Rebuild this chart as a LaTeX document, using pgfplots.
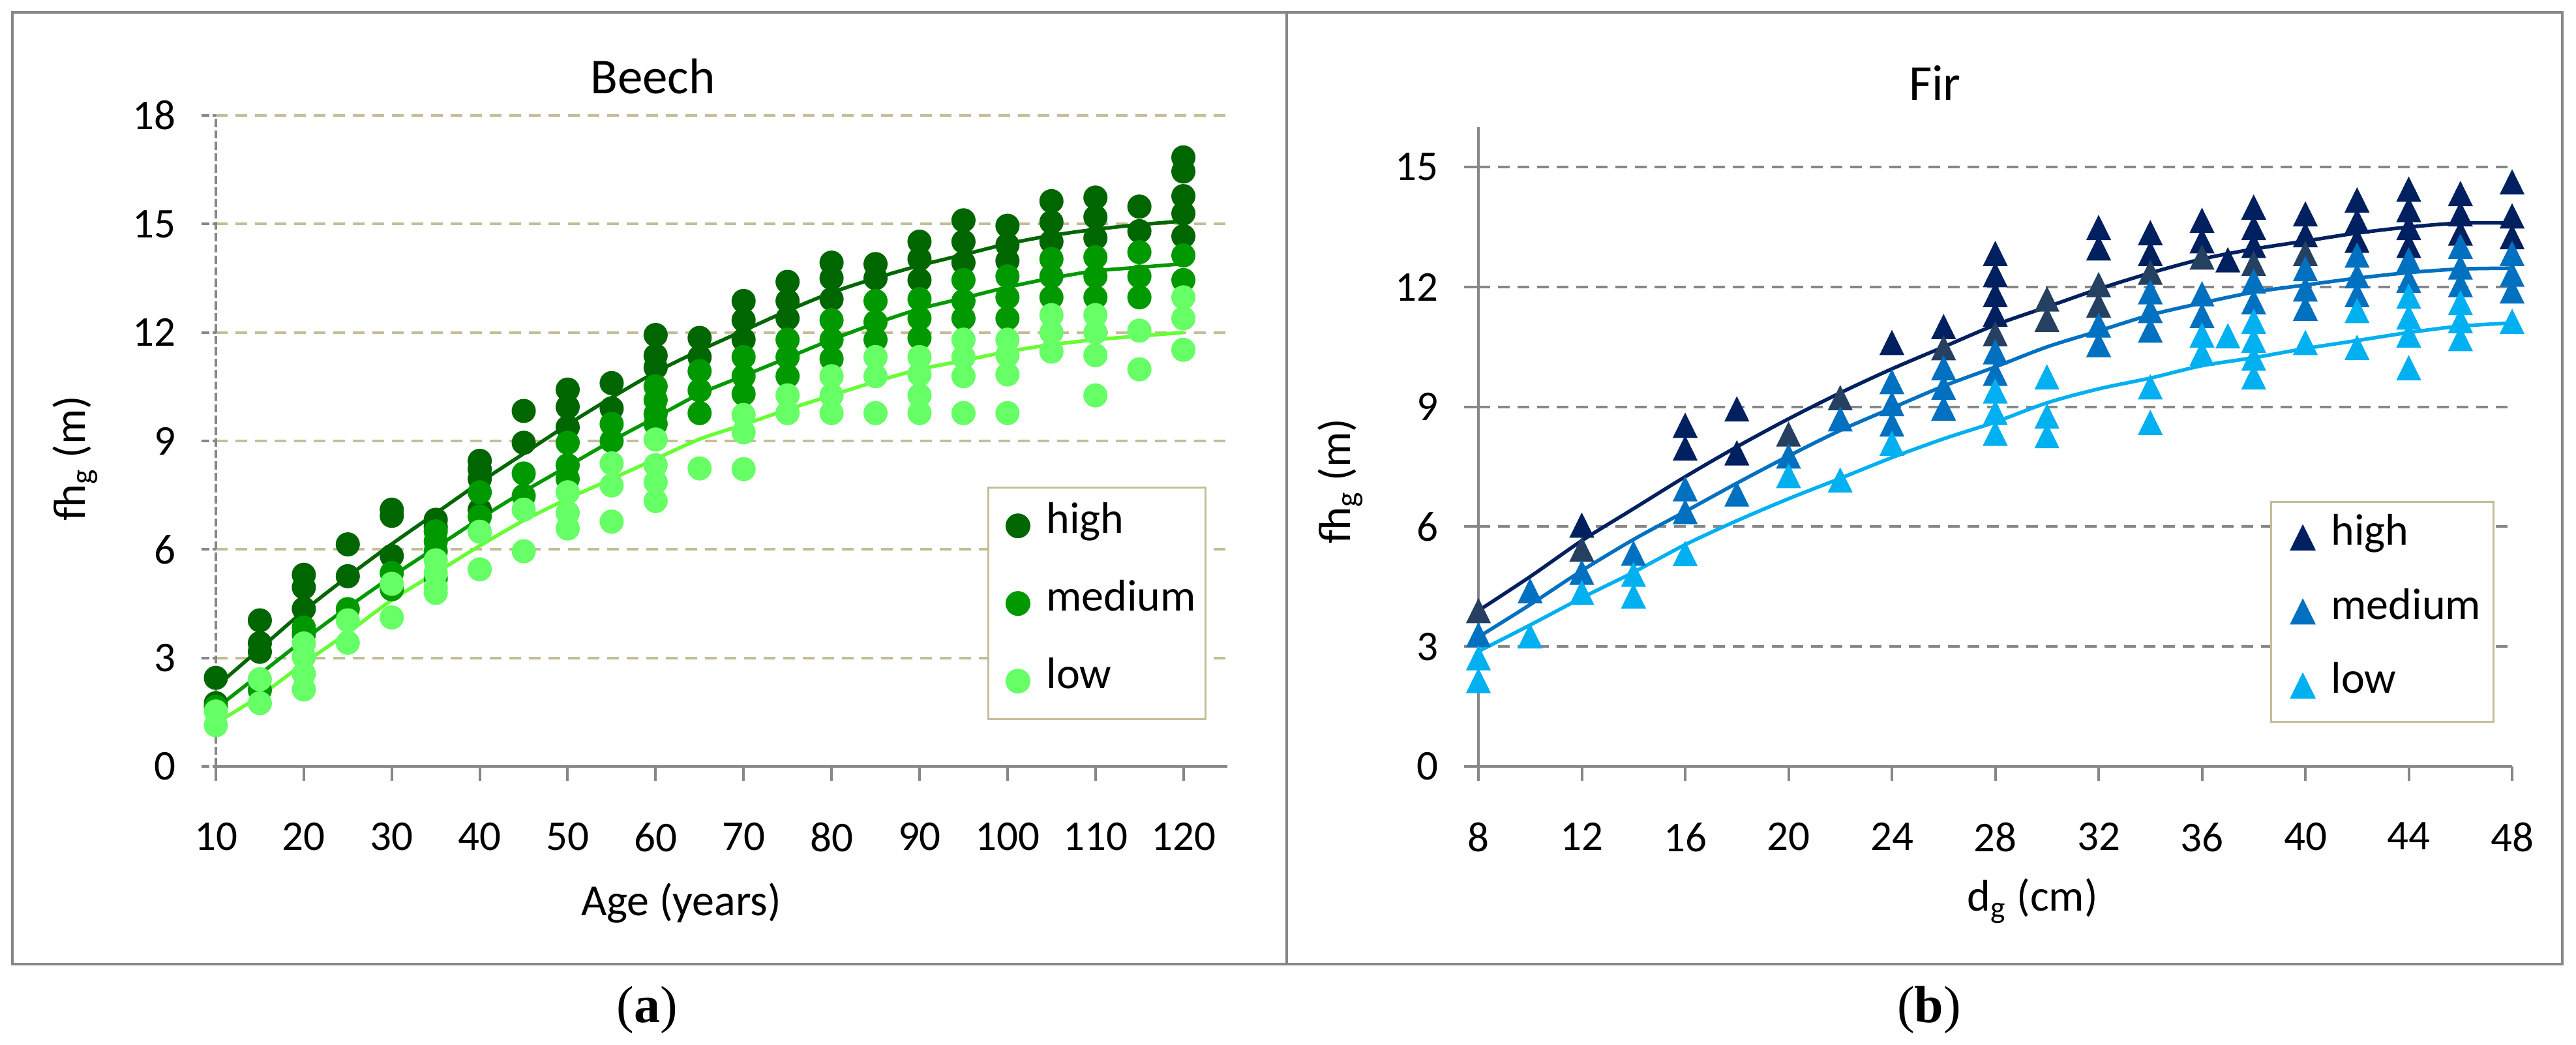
\documentclass[border=0pt]{standalone}
\usepackage{fontspec}
\setmainfont{Carlito}
\newfontfamily\capfont{Liberation Serif}
\usepackage{pgfplots}
\pgfplotsset{compat=1.18}
\usetikzlibrary{plotmarks}

\definecolor{axisgray}{HTML}{878787}
\definecolor{gridtan}{HTML}{C4BD97}
\definecolor{bhigh}{HTML}{006600}
\definecolor{bmed}{HTML}{009900}
\definecolor{blow}{HTML}{66FF66}
\definecolor{blowline}{HTML}{66FF33}
\definecolor{fhigh}{HTML}{002060}
\definecolor{fslate}{HTML}{254061}
\definecolor{fmed}{HTML}{0070C0}
\definecolor{flow}{HTML}{00B0F0}

\pgfplotsset{
  panel/.style={
    scale only axis, clip=false,
    axis x line*=bottom, axis y line*=left,
    tick align=outside, major tick length=4.4pt,
    x axis line style={axisgray, line width=0.9pt},
    xtick style={axisgray, line width=0.8pt},
    ticklabel style={font=\fontsize{13}{13}\selectfont},
    xticklabel style={yshift=-9.3pt},
    yticklabel style={xshift=-4.3pt},
    /pgf/number format/assume math mode=true,
    label style={font=\fontsize{13.6}{16}\selectfont},
    title style={font=\fontsize{15.4}{18}\selectfont, anchor=base, yshift=0pt},
    every axis title shift=0pt,
    ymajorgrids,
    legend cell align=left,
  },
  dot/.style={only marks, mark=*, mark size=3.5pt, mark options={draw=none, fill=#1}, color=#1},
  tri/.style={only marks, mark=triangle*, mark size=4.05pt,
    mark options={draw=none, fill=#1, yshift=-1.18pt, yscale=1.17}, color=#1},
  fit/.style={no marks, smooth, line width=1.1pt, color=#1, forget plot},
}

\begin{document}
\begin{tikzpicture}
\path[use as bounding box] (0,0) rectangle (790pt,320.4pt);

% ---------------- (a) Beech ----------------
\begin{axis}[panel,
  at={(66.2pt,85.4pt)}, anchor=south west,
  width=310.2pt, height=199.6pt,
  xmin=10, xmax=125, ymin=0, ymax=18,
  xtick={10,20,...,120}, ytick={0,3,...,18},
  y axis line style={axisgray, line width=0.8pt, dash pattern=on 2.5pt off 1pt},
  ytick style={axisgray, line width=0.8pt, dash pattern=on 2.5pt off 1pt},
  major grid style={gridtan, line width=0.8pt, dash pattern=on 3.6pt off 2.4pt},
  title={Beech}, title style={at={(0.432,1.034)}},
  xlabel={Age (years)}, xlabel style={at={(0.460,-0.2285)}, anchor=base},
  ylabel={fh\textsubscript{g} (m)}, ylabel style={at={(-0.129,0.473)}, anchor=base},
  legend style={at={(0.7627,0.4299)}, anchor=north west, draw=gridtan, line width=0.6pt,
    font=\fontsize{13.6}{16}\selectfont, inner xsep=3pt, inner ysep=7pt, row sep=14.3pt,
    nodes={inner sep=0pt, text height=7pt, text depth=2.5pt}},
  legend image code/.code={\path (0pt,0pt) (14.2pt,0pt); \draw[#1] plot coordinates {(5.8pt,0pt)};},
]
\addplot[dot=bhigh] coordinates {
(10,2.45)(10,1.75)(15,4.04)(15,3.41)(15,3.17)(20,5.30)(20,4.95)(20,4.36)
(25,6.14)(25,5.26)(30,7.10)(30,6.93)(30,5.82)(35,6.82)(35,6.62)
(40,8.45)(40,8.22)(40,7.95)(40,7.10)(45,9.83)(45,8.95)(50,10.42)(50,9.94)(50,9.38)
(55,10.60)(55,9.90)(60,11.93)(60,11.36)(60,11.03)(65,11.85)(65,11.32)
(70,12.87)(70,12.34)(70,11.80)(75,13.40)(75,12.87)(75,12.39)(80,13.93)(80,13.50)(80,12.92)
(85,13.89)(85,13.50)(90,14.51)(90,14.03)(90,13.45)(95,15.10)(95,14.51)(95,13.93)
(100,14.95)(100,14.42)(100,13.98)(105,15.63)(105,15.05)(105,14.51)
(110,15.73)(110,15.19)(110,14.61)(115,15.48)(115,14.80)
(120,16.84)(120,16.45)(120,15.77)(120,15.29)(120,14.66)};
\addlegendentry{high}
\addplot[dot=bmed] coordinates {
(10,1.65)(15,2.11)(20,3.84)(20,3.65)(25,4.35)(30,5.35)(30,4.90)
(35,6.50)(35,6.22)(35,5.95)(35,5.20)(40,7.58)(40,6.91)(45,8.10)(45,7.48)
(50,8.95)(50,8.33)(50,7.95)(55,9.47)(55,9.00)(60,10.51)(60,10.13)(60,9.75)(60,9.47)
(65,10.93)(65,10.40)(65,9.77)(70,11.32)(70,10.79)(70,10.30)(75,11.80)(75,11.32)(75,10.79)
(80,12.34)(80,11.80)(80,11.27)(85,12.87)(85,12.29)(85,11.80)(90,12.92)(90,12.39)(90,11.85)
(95,13.45)(95,12.87)(95,12.39)(100,13.55)(100,12.97)(100,12.39)
(105,14.03)(105,13.55)(105,12.97)(110,14.08)(110,13.55)(110,12.97)
(115,14.22)(115,13.55)(115,12.97)(120,14.13)(120,13.45)};
\addlegendentry{medium}
\addplot[dot=blow] coordinates {
(10,1.52)(10,1.14)(15,2.41)(15,1.75)(20,3.40)(20,3.03)(20,2.56)(20,2.13)
(25,4.04)(25,3.42)(30,5.05)(30,4.12)(35,5.70)(35,5.35)(35,4.95)(35,4.80)
(40,6.49)(40,5.45)(45,7.10)(45,5.95)(50,7.58)(50,7.01)(50,6.58)
(55,8.38)(55,7.77)(55,6.77)(60,9.04)(60,8.33)(60,7.86)(60,7.34)(65,8.24)
(70,9.72)(70,9.24)(70,8.22)(75,10.26)(75,9.77)(80,10.79)(80,10.26)(80,9.77)
(85,11.32)(85,10.79)(85,9.77)(90,11.32)(90,10.84)(90,10.26)(90,9.77)
(95,11.80)(95,11.32)(95,10.79)(95,9.77)(100,11.80)(100,11.37)(100,10.84)(100,9.77)
(105,12.48)(105,12.00)(105,11.47)(110,12.48)(110,12.00)(110,11.37)(110,10.26)
(115,12.05)(115,10.98)(120,12.97)(120,12.39)(120,11.52)};
\addlegendentry{low}
\addplot[fit=bhigh] coordinates {
(10,2.20)(15,3.25)(20,4.30)(25,5.25)(30,6.15)(35,7.00)(40,7.85)(45,8.65)(50,9.45)
(55,10.20)(60,10.90)(65,11.50)(70,12.05)(75,12.60)(80,13.10)(85,13.50)(90,13.85)
(95,14.15)(100,14.45)(105,14.68)(110,14.85)(115,14.98)(120,15.08)};
\addplot[fit=bmed] coordinates {
(10,1.60)(15,2.55)(20,3.50)(25,4.40)(30,5.25)(35,6.05)(40,6.85)(45,7.60)(50,8.30)
(55,9.00)(60,9.65)(65,10.30)(70,10.80)(75,11.30)(80,11.80)(85,12.25)(90,12.65)
(95,12.95)(100,13.25)(105,13.50)(110,13.70)(115,13.80)(120,13.90)};
\addplot[fit=blowline] coordinates {
(10,1.20)(15,1.95)(20,2.85)(25,3.70)(30,4.60)(35,5.35)(40,6.10)(45,6.80)(50,7.40)
(55,7.95)(60,8.50)(65,9.05)(70,9.45)(75,9.87)(80,10.26)(85,10.64)(90,10.98)
(95,11.22)(100,11.47)(105,11.66)(110,11.80)(115,11.90)(120,12.00)};
\end{axis}

% ---------------- (b) Fir ----------------
\begin{axis}[panel,
  at={(453.4pt,85.4pt)}, anchor=south west,
  width=317pt, height=196pt,
  xmin=8, xmax=48, ymin=0, ymax=16,
  xtick={8,12,...,48}, ytick={0,3,...,15},
  y axis line style={axisgray, line width=0.8pt},
  ytick style={axisgray, line width=0.8pt},
  major grid style={axisgray, line width=0.8pt, dash pattern=on 3.6pt off 2.4pt},
  title={Fir}, title style={at={(0.4416,1.042)}},
  xlabel={d\textsubscript{g} (cm)}, xlabel style={at={(0.536,-0.2265)}, anchor=base},
  ylabel={fh\textsubscript{g} (m)}, ylabel style={at={(-0.1237,0.446)}, anchor=base},
  legend style={at={(0.766,0.4153)}, anchor=north west, draw=gridtan, line width=0.6pt,
    font=\fontsize{13.6}{16}\selectfont, inner xsep=3.8pt, inner ysep=6.3pt, row sep=13.2pt,
    nodes={inner sep=0pt, text height=7pt, text depth=2.5pt}},
  legend image code/.code={\path (0pt,0pt) (14pt,0pt); \draw[#1] plot coordinates {(5.6pt,0pt)};},
]
\addplot[tri=fhigh] coordinates {
(12,6.03)(16,8.53)(16,7.96)(18,8.94)(18,7.84)(24,10.60)(26,11.00)
(28,12.83)(28,12.30)(28,11.80)(28,11.31)(32,13.48)(32,12.97)(34,13.35)(34,12.83)
(36,13.66)(36,13.15)(37,12.67)(38,13.99)(38,13.48)(38,13.03)(40,13.82)(40,13.30)
(42,14.17)(42,13.64)(42,13.16)(44,14.44)(44,13.93)(44,13.48)(44,13.03)
(46,14.33)(46,13.82)(46,13.34)(48,14.62)(48,13.77)(48,13.25)};
\addlegendentry{high}
\addplot[tri=fslate, forget plot] coordinates {
(8,3.89)(12,5.43)(20,8.31)(22,9.22)(26,10.47)(28,10.82)(30,11.69)(30,11.18)
(32,12.05)(32,11.54)(34,12.36)(36,12.74)(38,12.58)(40,12.83)};
\addplot[tri=fmed] coordinates {
(8,3.29)(10,4.39)(12,4.85)(14,5.33)(16,6.94)(16,6.37)(18,6.81)(20,7.76)(22,8.69)
(24,9.62)(24,9.07)(24,8.56)(26,9.97)(26,9.48)(26,8.96)(28,10.37)(28,9.83)
(32,11.04)(32,10.55)(34,11.87)(34,11.40)(34,10.91)(36,11.82)(36,11.28)
(38,12.14)(38,11.62)(40,12.45)(40,11.94)(40,11.46)(42,12.79)(42,12.27)(42,11.80)
(44,12.67)(44,12.16)(46,13.01)(46,12.49)(46,12.05)(48,12.83)(48,12.31)(48,11.89)};
\addlegendentry{medium}
\addplot[tri=flow] coordinates {
(8,2.71)(8,2.14)(10,3.26)(12,4.35)(14,4.80)(14,4.26)(16,5.32)(20,7.27)(22,7.16)(24,8.08)
(28,9.39)(28,8.85)(28,8.33)(30,9.74)(30,8.76)(30,8.27)(34,9.49)(34,8.60)
(36,10.79)(36,10.33)(37,10.77)(38,11.13)(38,10.66)(38,10.21)(38,9.74)(40,10.60)
(42,11.40)(42,10.48)(44,11.76)(44,11.24)(44,10.79)(44,9.97)
(46,11.60)(46,11.15)(46,10.70)(48,11.13)};
\addlegendentry{low}
\addplot[fit=fhigh] coordinates {
(8,3.90)(10,4.75)(12,5.65)(14,6.45)(16,7.25)(18,8.00)(20,8.70)(22,9.35)(24,9.95)
(26,10.50)(28,11.05)(30,11.50)(32,11.95)(34,12.35)(36,12.70)(38,12.95)(40,13.15)
(42,13.35)(44,13.50)(46,13.60)(48,13.60)};
\addplot[fit=fmed] coordinates {
(8,3.24)(10,4.05)(12,4.90)(14,5.68)(16,6.38)(18,7.09)(20,7.77)(22,8.41)(24,8.97)
(26,9.52)(28,10.00)(30,10.50)(32,10.90)(34,11.30)(36,11.60)(38,11.87)(40,12.05)
(42,12.22)(44,12.36)(46,12.45)(48,12.47)};
\addplot[fit=flow] coordinates {
(8,2.88)(10,3.54)(12,4.22)(14,4.86)(16,5.55)(18,6.15)(20,6.70)(22,7.21)(24,7.73)
(26,8.20)(28,8.62)(30,9.10)(32,9.45)(34,9.72)(36,10.03)(38,10.23)(40,10.46)
(42,10.66)(44,10.86)(46,11.02)(48,11.10)};
\end{axis}

% panel frames and captions
\draw[axisgray, line width=0.7pt] (3.8pt,24.8pt) rectangle (394.6pt,316.6pt);
\draw[axisgray, line width=0.7pt] (394.6pt,24.8pt) rectangle (785.8pt,316.6pt);
\node[anchor=base, font=\capfont\fontsize{16}{18}\selectfont] at (198.4pt,6.8pt) {(\textbf{a})};
\node[anchor=base, font=\capfont\fontsize{16}{18}\selectfont] at (591.6pt,6.8pt) {(\textbf{b})};
\end{tikzpicture}
\end{document}
